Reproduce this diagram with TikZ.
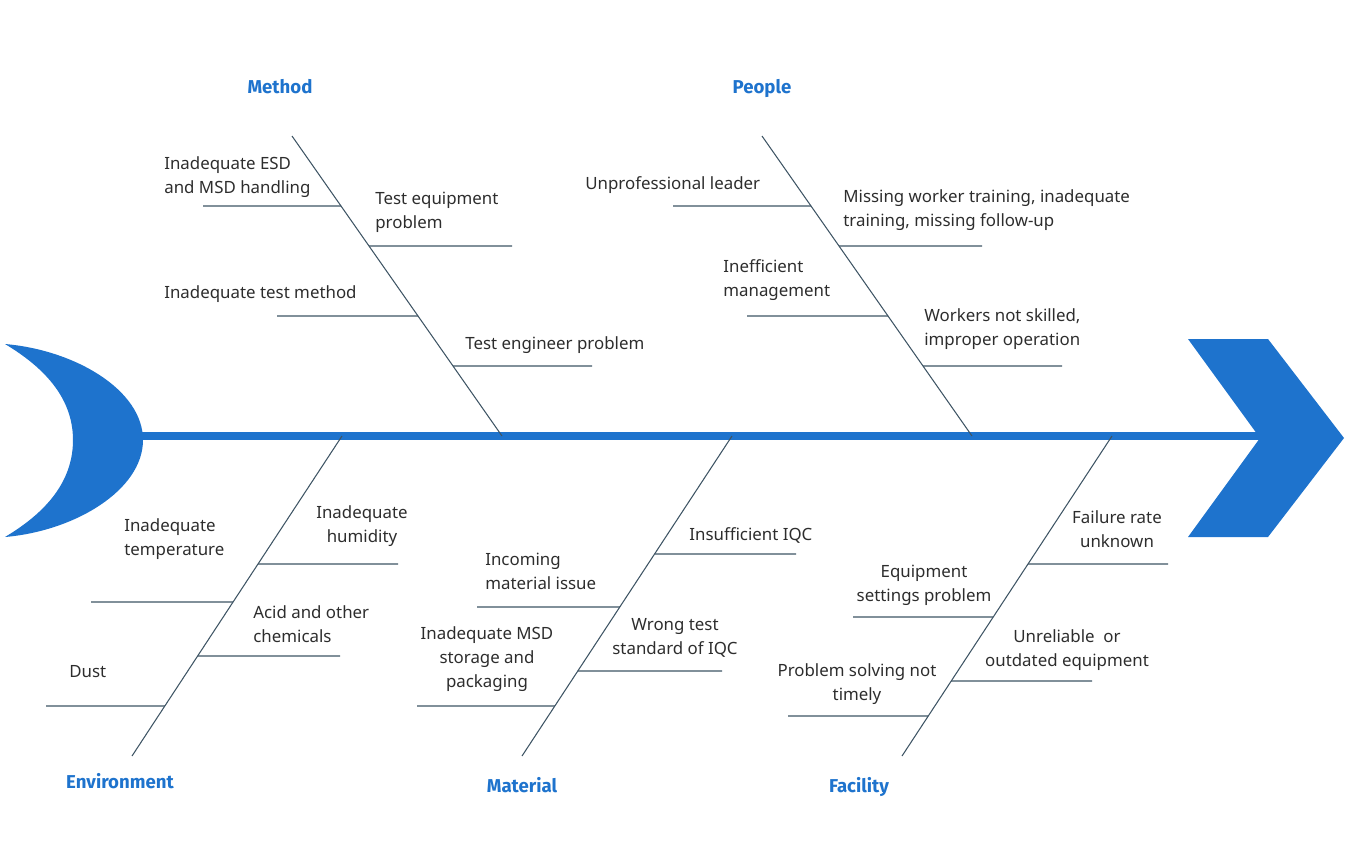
\documentclass[tikz,border=0pt]{standalone}
\usepackage{fontspec}
\setmainfont{Noto Sans}
\newfontfamily\catfont{Fira Sans}
\usetikzlibrary{calc}

\definecolor{fishblue}{RGB}{30,115,205}
\definecolor{bonegray}{RGB}{62,84,100}
\definecolor{textgray}{RGB}{45,45,45}

\tikzset{
  bone/.style={draw=bonegray, line width=0.6pt},
  cause/.style={inner sep=0pt, text=textgray, font=\fontsize{9.6}{13.6}\selectfont},
  category/.style={inner sep=0pt, anchor=base, text=fishblue, font=\catfont\fontsize{10.6}{12}\selectfont\bfseries}
}

\begin{document}
\begin{tikzpicture}[x=0.02cm,y=-0.02cm]

        \useasboundingbox (0,0) rectangle (1359,867);

        % tail and head
        \fill[fishblue] (5,344) .. controls (75,350) and (143,390) .. (143,440)
          .. controls (143,490) and (75,531) .. (5,537)
          .. controls (40,516) and (73,486) .. (73,440)
          .. controls (73,395) and (40,365) .. (5,344) -- cycle;
        \fill[fishblue] (1188,339) -- (1268,339) -- (1344,438) -- (1268,537)
          -- (1188,537) -- (1260,438) -- cycle;

        % spine
        \coordinate (tail) at (140,436);
        \coordinate (head) at (1262,436);
        \draw[fishblue, line width=0.16cm] (tail) -- (head);

        % bone ends
        \coordinate (m0)  at (292,136);
        \coordinate (m9)  at (502,436);
        \coordinate (p0)  at (762,136);
        \coordinate (p9)  at (972,436);
        \coordinate (e0)  at (342,436);
        \coordinate (e9)  at (132,756);
        \coordinate (ma0) at (732,436);
        \coordinate (ma9) at (522,756);
        \coordinate (f0)  at (1112,436);
        \coordinate (f9)  at (902,756);

        % points on the bones
        \coordinate (m1)  at ($(m0)!0.233333!(m9)$);
        \coordinate (m2)  at ($(m0)!0.366667!(m9)$);
        \coordinate (m3)  at ($(m0)!0.6!(m9)$);
        \coordinate (m4)  at ($(m0)!0.766667!(m9)$);
        \coordinate (p1)  at ($(p0)!0.233333!(p9)$);
        \coordinate (p2)  at ($(p0)!0.366667!(p9)$);
        \coordinate (p3)  at ($(p0)!0.6!(p9)$);
        \coordinate (p4)  at ($(p0)!0.766667!(p9)$);
        \coordinate (e1)  at ($(e0)!0.4!(e9)$);
        \coordinate (e2)  at ($(e0)!0.51875!(e9)$);
        \coordinate (e3)  at ($(e0)!0.6875!(e9)$);
        \coordinate (e4)  at ($(e0)!0.84375!(e9)$);
        \coordinate (ma1) at ($(ma0)!0.36875!(ma9)$);
        \coordinate (ma2) at ($(ma0)!0.534375!(ma9)$);
        \coordinate (ma3) at ($(ma0)!0.734375!(ma9)$);
        \coordinate (ma4) at ($(ma0)!0.84375!(ma9)$);
        \coordinate (f1)  at ($(f0)!0.4!(f9)$);
        \coordinate (f2)  at ($(f0)!0.565625!(f9)$);
        \coordinate (f3)  at ($(f0)!0.765625!(f9)$);
        \coordinate (f4)  at ($(f0)!0.875!(f9)$);

        % free ends of the branches
        \coordinate (m1e)  at (203,206);
        \coordinate (m2e)  at (512,246);
        \coordinate (m3e)  at (277,316);
        \coordinate (m4e)  at (592,366);
        \coordinate (p1e)  at (673,206);
        \coordinate (p2e)  at (982,246);
        \coordinate (p3e)  at (747,316);
        \coordinate (p4e)  at (1062,366);
        \coordinate (e1e)  at (398,564);
        \coordinate (e2e)  at (91,602);
        \coordinate (e3e)  at (340,656);
        \coordinate (e4e)  at (46,706);
        \coordinate (ma1e) at (796,554);
        \coordinate (ma2e) at (477,607);
        \coordinate (ma3e) at (722,671);
        \coordinate (ma4e) at (417,706);
        \coordinate (f1e)  at (1168,564);
        \coordinate (f2e)  at (853,617);
        \coordinate (f3e)  at (1092,681);
        \coordinate (f4e)  at (788,716);

        \begin{scope}[every path/.style={bone}]
          \draw (m0) -- (m9);
          \draw (p0) -- (p9);
          \draw (e0) -- (e9);
          \draw (ma0) -- (ma9);
          \draw (f0) -- (f9);
          \draw (m1e) -- (m1);
          \draw (m2) -- (m2e);
          \draw (m3e) -- (m3);
          \draw (m4) -- (m4e);
          \draw (p1e) -- (p1);
          \draw (p2) -- (p2e);
          \draw (p3e) -- (p3);
          \draw (p4) -- (p4e);
          \draw (e1) -- (e1e);
          \draw (e2e) -- (e2);
          \draw (e3) -- (e3e);
          \draw (e4e) -- (e4);
          \draw (ma1) -- (ma1e);
          \draw (ma2e) -- (ma2);
          \draw (ma3) -- (ma3e);
          \draw (ma4e) -- (ma4);
          \draw (f1) -- (f1e);
          \draw (f2e) -- (f2);
          \draw (f3) -- (f3e);
          \draw (f4e) -- (f4);
        \end{scope}

        % categories
        \begin{scope}[every node/.style={category}]
          \node (method)      at (280,93)  {Method};
          \node (people)      at (762,93)  {People};
          \node (environment) at (120,788) {Environment};
          \node (material)    at (522,792) {Material};
          \node (facility)    at (859,792) {Facility};
        \end{scope}

        % causes
        \begin{scope}[every node/.style={cause, anchor=west, align=left}]
          \node (m1t)  at (164,177) {Inadequate ESD\\and MSD handling};
          \node (m2t)  at (375,212) {Test equipment\\problem};
          \node (m3t)  at (164,294) {Inadequate test method};
          \node (m4t)  at (465,345) {Test engineer problem};
          \node (p1t)  at (585,185) {Unprofessional leader};
          \node (p2t)  at (843,210) {Missing worker training, inadequate\\training, missing follow-up};
          \node (p3t)  at (723,280) {Inefficient\\management};
          \node (p4t)  at (924,329) {Workers not skilled,\\improper operation};
          \node (e2t)  at (124,539) {Inadequate\\temperature};
          \node (e3t)  at (253,624) {Acid and other\\chemicals};
          \node (e4t)  at (69,672)  {Dust};
          \node (ma1t) at (689,535) {Insufficient IQC};
          \node (ma2t) at (485,571) {Incoming\\material issue};
        \end{scope}

        \begin{scope}[every node/.style={cause, align=center}]
          \node (e1t)  at (362,526)  {Inadequate\\humidity};
          \node (ma3t) at (675,638)  {Wrong test\\standard of IQC};
          \node (ma4t) at (487,659)  {Inadequate MSD\\storage and\\packaging};
          \node (f1t)  at (1117,529) {Failure rate\\unknown};
          \node (f2t)  at (924,585)  {Equipment\\settings problem};
          \node (f3t)  at (1067,650) {Unreliable\ \ or\\outdated equipment};
          \node (f4t)  at (857,684)  {Problem solving not\\timely};
        \end{scope}

      \end{tikzpicture}
\end{document}
